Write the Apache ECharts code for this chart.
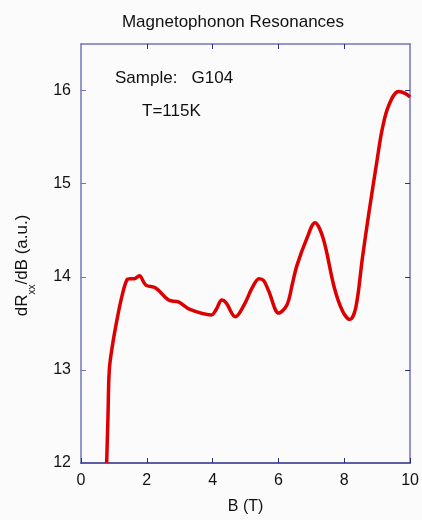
<!DOCTYPE html>
<html>
<head>
<meta charset="utf-8">
<script src="https://cdn.jsdelivr.net/npm/echarts@6/dist/echarts.min.js"></script>
<style>
html,body{margin:0;padding:0;background:#fbfbfb;}
#chart{width:422px;height:520px;}
</style>
</head>
<body>
<div id="chart"></div>
<script>
var fieldB = [0.78, 0.82, 0.86, 0.95, 1.1, 1.25, 1.4, 1.5, 1.62, 1.77, 1.97, 2.27, 2.66, 2.96, 3.31, 3.96, 4.11, 4.28, 4.41, 4.69, 4.96, 5.2, 5.41, 5.55, 5.7, 6.01, 6.26, 6.42, 6.56, 6.86, 7.11, 7.36, 7.70, 7.95, 8.17, 8.35, 8.55, 8.75, 9.0, 9.15, 9.35, 9.65, 9.85, 10.0];
var dRdB = [12.0, 12.5, 13.0, 13.25, 13.55, 13.8, 13.97, 13.98, 13.98, 14.01, 13.91, 13.88, 13.75, 13.73, 13.65, 13.59, 13.65, 13.75, 13.72, 13.57, 13.70, 13.88, 13.98, 13.96, 13.85, 13.61, 13.70, 13.92, 14.12, 14.41, 14.58, 14.41, 13.88, 13.63, 13.54, 13.67, 14.20, 14.69, 15.26, 15.58, 15.84, 15.99, 15.97, 15.93];
var xTicks = [0, 2, 4, 6, 8, 10];
var yTicks = [12, 13, 14, 15, 16];
var titleText = 'Magnetophonon Resonances';
var sampleText = 'Sample:   G104';
var tempText = 'T=115K';

var points = fieldB.map(function (b, i) { return [b, dRdB[i]]; });
var font = 'Liberation Sans, Arial, sans-serif';
var sideColor = '#7474bc';
var bottomColor = '#2a2a8c';

var chart = echarts.init(document.getElementById('chart'), null, {renderer: 'canvas'});
chart.setOption({
  backgroundColor: '#fbfbfb',
  animation: false,
  title: {
    text: titleText,
    left: 228, top: 9, textAlign: 'center',
    textStyle: {fontFamily: font, fontSize: 17, fontWeight: 'normal', color: '#111'}
  },
  grid: {left: 81, right: 7, top: 44, bottom: 52},
  xAxis: [{
    type: 'value', min: 0, max: 10, interval: 2,
    position: 'bottom',
    name: 'B (T)', nameLocation: 'middle', nameGap: 36,
    nameTextStyle: {fontFamily: font, fontSize: 16, color: '#111'},
    axisLine: {show: true, onZero: false, lineStyle: {color: bottomColor, width: 1.5}},
    axisTick: {show: true, inside: true, length: 5, customValues: xTicks, lineStyle: {color: bottomColor}},
    axisLabel: {fontFamily: font, fontSize: 16, color: '#111', margin: 10, customValues: xTicks},
    splitLine: {show: false}
  }, {
    type: 'value', min: 0, max: 10, interval: 2,
    position: 'top',
    axisLine: {show: true, onZero: false, lineStyle: {color: sideColor, width: 1.5}},
    axisTick: {show: true, inside: true, length: 5, customValues: [2, 4, 6, 8], lineStyle: {color: bottomColor}},
    axisLabel: {show: false},
    splitLine: {show: false}
  }],
  yAxis: [{
    type: 'value', min: 12, max: 16.5, interval: 1,
    position: 'left',
    name: 'dR{sub|xx}/dB (a.u.)', nameLocation: 'middle', nameGap: 50, nameRotate: 90,
    nameTextStyle: {fontFamily: font, fontSize: 17, color: '#111', padding: [0, 24, 0, 0],
      rich: {sub: {fontFamily: font, fontSize: 10, color: '#111', verticalAlign: 'bottom', padding: [0, 0, -6, 0]}}},
    axisLine: {show: true, onZero: false, lineStyle: {color: sideColor, width: 1.5}},
    axisTick: {show: true, inside: true, length: 5, customValues: [13, 14, 15, 16], lineStyle: {color: sideColor}},
    axisLabel: {fontFamily: font, fontSize: 16, color: '#111', margin: 10, customValues: yTicks},
    splitLine: {show: false}
  }, {
    type: 'value', min: 12, max: 16.5, interval: 1,
    position: 'right',
    axisLine: {show: true, onZero: false, lineStyle: {color: sideColor, width: 1.5}},
    axisTick: {show: true, inside: true, length: 5, customValues: [13, 14, 15, 16], lineStyle: {color: bottomColor}},
    axisLabel: {show: false},
    splitLine: {show: false}
  }],
  graphic: [
    {type: 'text', left: 115, top: 70, style: {text: sampleText, font: '17px ' + font, fill: '#111'}},
    {type: 'text', left: 142, top: 103, style: {text: tempText, font: '17px ' + font, fill: '#111'}}
  ],
  series: [{
    type: 'line', xAxisIndex: 0, yAxisIndex: 0,
    data: points, smooth: 0.35, showSymbol: false, clip: true,
    lineStyle: {color: '#dd0000', width: 3.5}
  }]
});
</script>
</body>
</html>
